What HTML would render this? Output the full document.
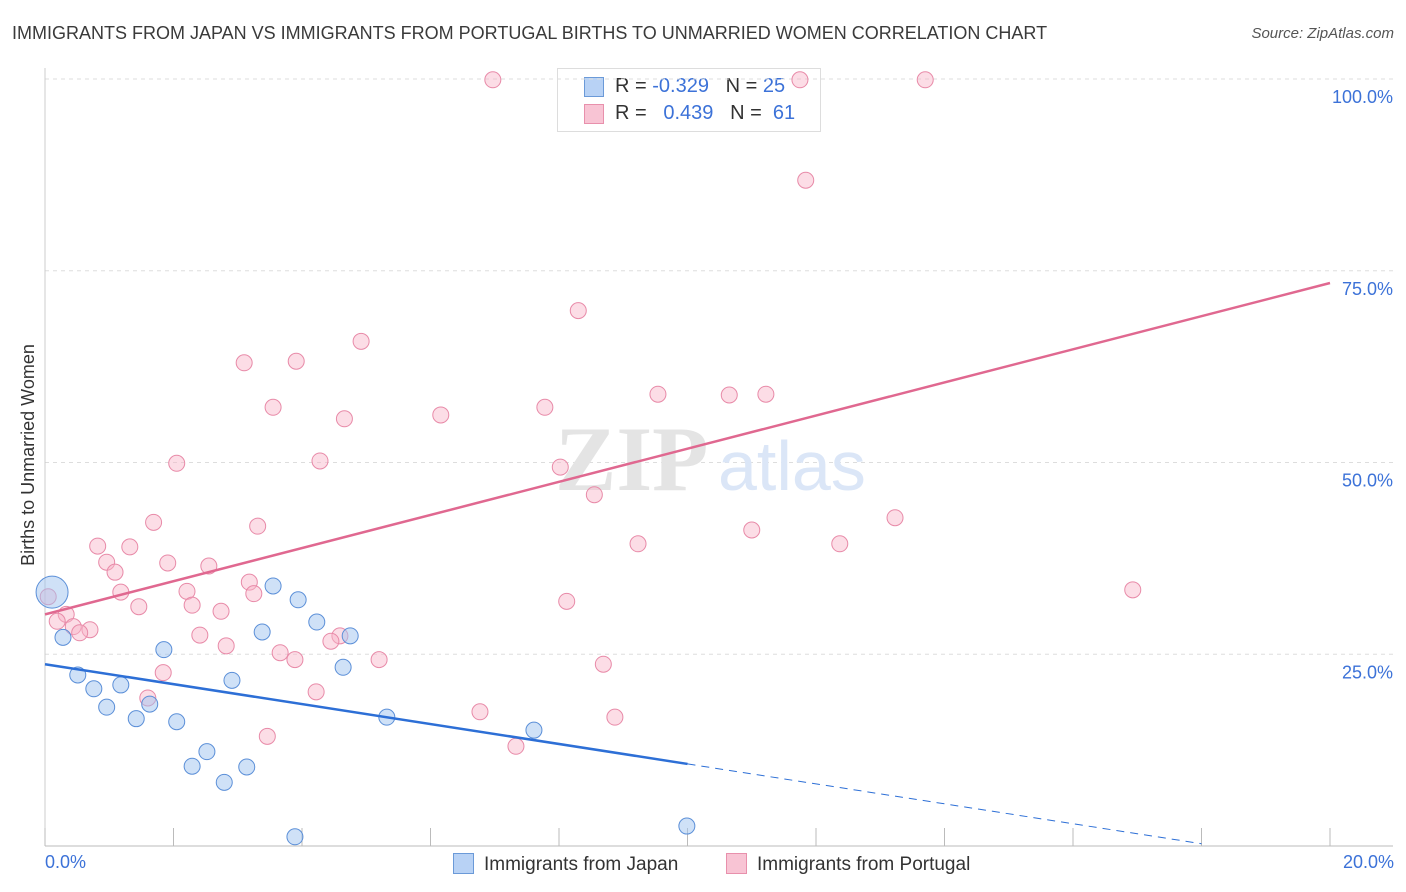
<!DOCTYPE html>
<html><head><meta charset="utf-8"><style>
body{margin:0;background:#fff;font-family:"Liberation Sans",sans-serif;}
#wrap{position:relative;width:1406px;height:892px;overflow:hidden;}
.t{position:absolute;white-space:nowrap;}
</style></head><body>
<div id="wrap">
<div class="t" style="left:12px;top:23px;font-size:18px;color:#3a3a3a;">IMMIGRANTS FROM JAPAN VS IMMIGRANTS FROM PORTUGAL BIRTHS TO UNMARRIED WOMEN CORRELATION CHART</div>
<div class="t" style="right:12px;top:25px;font-size:15px;color:#555;font-style:italic;">Source: ZipAtlas.com</div>
<div style="position:absolute;z-index:1;left:557px;top:68px;width:262px;height:62px;border:1px solid #ddd;background:#fff;font-size:20px;">
 <div style="position:absolute;left:26px;top:8px;width:18px;height:18px;background:#b8d2f5;border:1px solid #6b9ad8;"></div>
 <div class="t" style="left:57px;top:6px;color:#333;">R = <span style="color:#3c72d8">-0.329</span>&nbsp;&nbsp;&nbsp;N = <span style="color:#3c72d8">25</span></div>
 <div style="position:absolute;left:26px;top:35px;width:18px;height:18px;background:#f8c4d4;border:1px solid #e890ac;"></div>
 <div class="t" style="left:57px;top:33px;color:#333;">R = &nbsp;&nbsp;<span style="color:#3c72d8">0.439</span>&nbsp;&nbsp;&nbsp;N = &nbsp;<span style="color:#3c72d8">61</span></div>
</div>
<svg id="svg" width="1406" height="892" style="position:absolute;left:0;top:0;z-index:2"></svg>
</div>
<script>
const japanX=[0.11,0.28,0.51,0.76,0.96,1.18,1.42,1.63,1.85,2.05,2.29,2.52,2.79,2.91,3.14,3.38,3.55,3.89,3.94,4.23,4.64,4.75,5.32,7.61,9.99];
const japanY=[33.1,27.2,22.3,20.5,18.1,21.0,16.6,18.5,25.6,16.2,10.4,12.3,8.3,21.6,10.3,27.9,33.9,1.2,32.1,29.2,23.3,27.4,16.8,15.1,2.6];
const portX=[6.97,11.75,13.70,11.84,8.30,4.92,3.10,3.91,3.55,4.66,6.16,7.78,9.54,10.65,11.22,2.05,4.28,8.02,8.55,1.69,3.31,9.23,11.00,12.37,13.23,0.82,1.32,0.96,1.09,1.91,2.55,1.18,3.18,2.21,3.25,1.46,2.29,2.74,8.12,16.93,0.05,0.33,0.19,0.44,0.70,0.54,2.41,2.82,4.59,4.45,3.66,3.89,5.20,8.69,1.84,4.22,1.60,6.77,8.87,3.46,7.33];
const portY=[99.9,99.9,99.9,86.8,69.8,65.8,63.0,63.2,57.2,55.7,56.2,57.2,58.9,58.8,58.9,49.9,50.2,49.4,45.8,42.2,41.7,39.4,41.2,39.4,42.8,39.1,39.0,37.0,35.7,36.9,36.5,33.1,34.4,33.2,32.9,31.2,31.4,30.6,31.9,33.4,32.5,30.2,29.3,28.6,28.2,27.8,27.5,26.1,27.4,26.7,25.2,24.3,24.3,23.7,22.6,20.1,19.3,17.5,16.8,14.3,13.0];
const yTicks=[25,50,75,100];
const yTickLabels=["25.0%","50.0%","75.0%","100.0%"];
const xTicks=[0,2,4,6,8,10,12,14,16,18,20];
const japanTrend=[23.7,-1.3];
const portTrend=[30.2,2.16];
const NS="http://www.w3.org/2000/svg";
const svg=document.getElementById('svg');
const X=v=>45+v*64.25, Y=v=>846-v*7.67;
function mk(tag,a,p){const e=document.createElementNS(NS,tag);for(const k in a)e.setAttribute(k,a[k]);(p||svg).appendChild(e);return e;}
yTicks.forEach((t,i)=>{
 const g=mk('line',{x1:45,x2:1393,y1:Y(t),y2:Y(t),stroke:'#ddd','stroke-dasharray':'4,4'});
 
 
 const tx=mk('text',{x:1393,y:Y(t)+24,'text-anchor':'end','font-size':18,fill:'#3c72d8','font-family':'Liberation Sans'});
 tx.textContent=yTickLabels[i];
 
 
});
const ax=mk('line',{x1:45,x2:1393,y1:846,y2:846,stroke:'#bbb'});


const ay=mk('line',{x1:45,x2:45,y1:68,y2:846,stroke:'#ccc'});


xTicks.forEach(t=>{const l=mk('line',{x1:X(t),x2:X(t),y1:828,y2:846,stroke:'#bbb'});
 
 });
const yt=mk('text',{x:0,y:0,transform:'translate(34,455) rotate(-90)','text-anchor':'middle','font-size':18,fill:'#333','font-family':'Liberation Sans'});
yt.textContent='Births to Unmarried Women';


const wm=mk('text',{x:555,y:490,'font-size':92,fill:'#e4e4e4','font-family':'Liberation Serif','font-weight':'bold'});
wm.textContent='ZIP';


const wm2=mk('text',{x:718,y:490,'font-size':70,fill:'#dbe6f7','font-family':'Liberation Sans'});
wm2.textContent='atlas';


portX.forEach((x,i)=>{const c=mk('circle',{cx:X(x),cy:Y(portY[i]),r:8,fill:'rgba(248,180,200,0.45)',stroke:'#e88aa8','stroke-width':1});
 
 });
japanX.forEach((x,i)=>{const c=mk('circle',{cx:X(x),cy:Y(japanY[i]),r:i==0?16:8,fill:'rgba(160,195,240,0.5)',stroke:'#5b8fd8','stroke-width':1});
 
 });
const pl=mk('line',{x1:X(0),y1:Y(portTrend[0]),x2:X(20),y2:Y(portTrend[0]+portTrend[1]*20),stroke:'#e06890','stroke-width':2.5});


const jl=mk('line',{x1:X(0),y1:Y(japanTrend[0]),x2:X(10),y2:Y(japanTrend[0]+japanTrend[1]*10),stroke:'#2d6fd6','stroke-width':2.5});


const jd=mk('line',{x1:X(10),y1:Y(japanTrend[0]+japanTrend[1]*10),x2:X(18),y2:Y(japanTrend[0]+japanTrend[1]*18),stroke:'#2d6fd6','stroke-width':1,'stroke-dasharray':'8,6'});


</script>
<div class="t" style="left:45px;top:852px;font-size:18px;color:#3c72d8;">0.0%</div>
<div class="t" style="right:12px;top:852px;font-size:18px;color:#3c72d8;">20.0%</div>
<div style="position:absolute;left:453px;top:853px;font-size:19px;color:#333;">
 <span style="display:inline-block;width:19px;height:19px;background:#b8d2f5;border:1px solid #6b9ad8;vertical-align:-4px;margin-right:10px;"></span>Immigrants from Japan</div>
<div style="position:absolute;left:726px;top:853px;font-size:19px;color:#333;">
 <span style="display:inline-block;width:19px;height:19px;background:#f8c4d4;border:1px solid #e890ac;vertical-align:-4px;margin-right:10px;"></span>Immigrants from Portugal</div>
</body></html>
